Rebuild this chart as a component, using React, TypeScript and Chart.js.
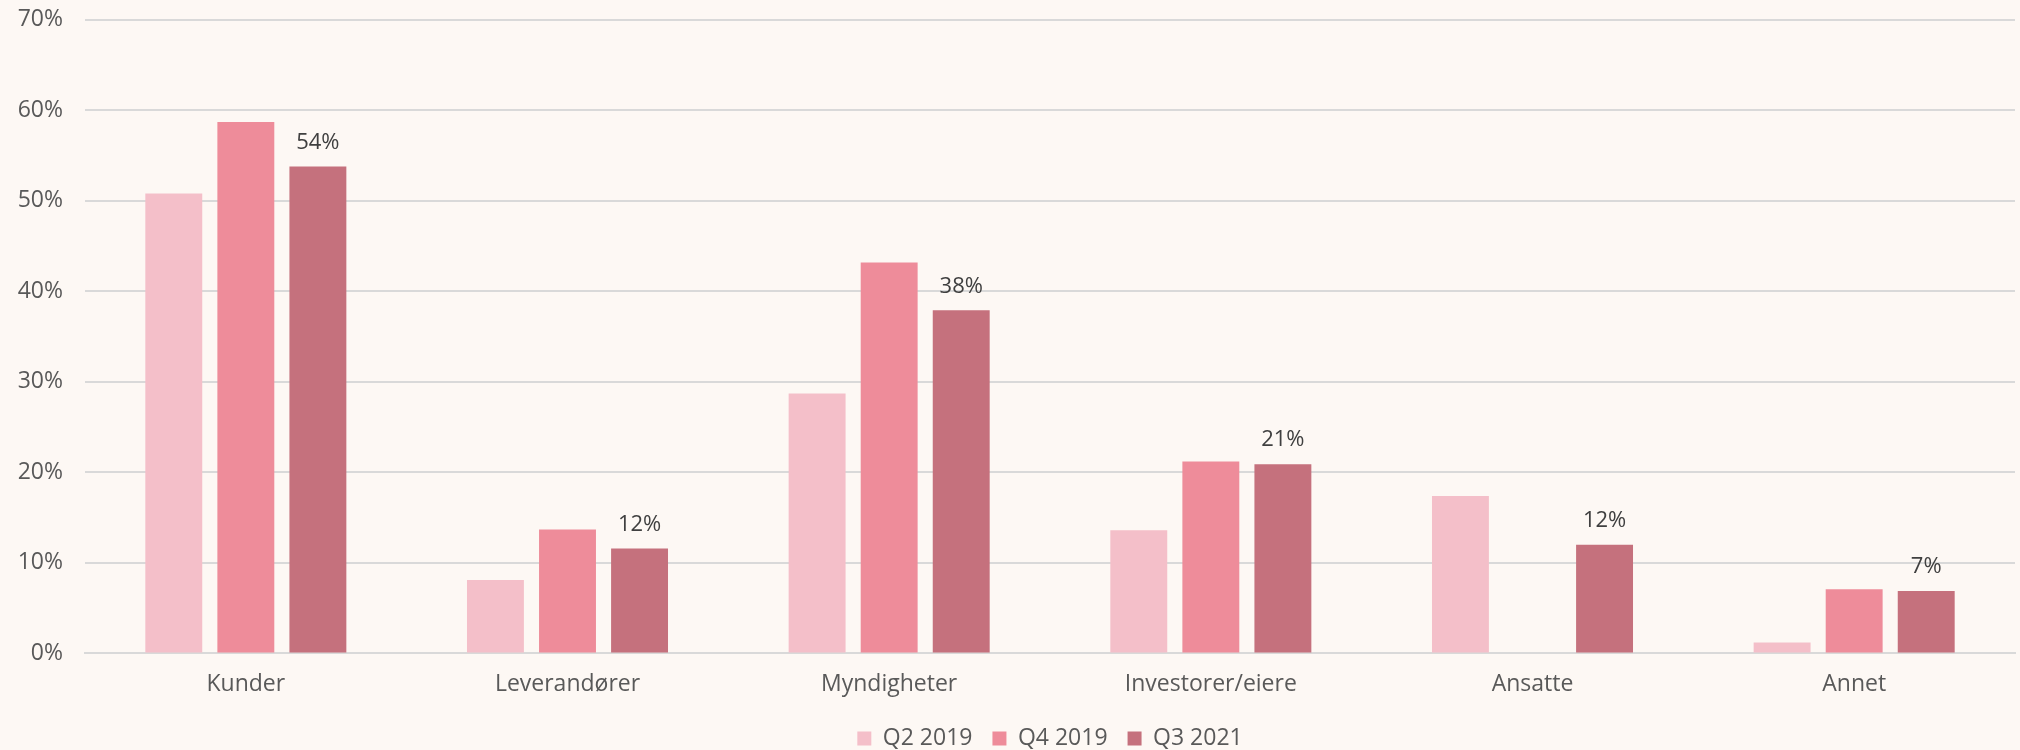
import React, { useEffect, useRef } from "react";
import { Chart, registerables } from "chart.js";

Chart.register(...registerables);

const categories = ["Kunder", "Leverandører", "Myndigheter", "Investorer/eiere", "Ansatte", "Annet"];
const seriesNames = ["Q2 2019", "Q4 2019", "Q3 2021"];
const q2_2019 = [50.8, 8.1, 28.7, 13.6, 17.4, 1.2];
const q4_2019: (number | null)[] = [58.7, 13.7, 43.2, 21.2, null, 7.1];
const q3_2021 = [53.8, 11.6, 37.9, 20.9, 12.0, 6.9];
const seriesColors = ["#F4BFC9", "#EE8C9A", "#C5717D"];
const yTicks = [0, 10, 20, 30, 40, 50, 60, 70];
const labelledSeries = 2;

const FONT = "'Open Sans', sans-serif";

const valueLabels = {
  id: "valueLabels",
  afterDatasetsDraw(chart: any) {
    const ctx = chart.ctx;
    const meta = chart.getDatasetMeta(labelledSeries);
    const data = chart.data.datasets[labelledSeries].data;
    ctx.save();
    ctx.fillStyle = "#404040";
    ctx.font = `22px ${FONT}`;
    ctx.textAlign = "center";
    ctx.textBaseline = "middle";
    meta.data.forEach((el: any, i: number) => {
      const v = data[i];
      if (v == null) return;
      ctx.fillText(Math.round(v) + "%", el.x, el.y - 24);
    });
    ctx.restore();
  },
};

const bgPlugin = {
  id: "bg",
  beforeDraw(chart: any) {
    const ctx = chart.ctx;
    ctx.save();
    ctx.fillStyle = "#FDF8F4";
    ctx.fillRect(0, 0, chart.width, chart.height);
    ctx.restore();
  },
};

export default function App() {
  const ref = useRef<HTMLCanvasElement>(null);
  useEffect(() => {
    document.body.style.margin = "0";
    document.body.style.background = "#FDF8F4";
    document.body.style.overflow = "hidden";
    const values = [q2_2019, q4_2019, q3_2021];
    const chart = new Chart(ref.current!, {
      type: "bar",
      data: {
        labels: categories,
        datasets: seriesNames.map((name, i) => ({
          label: name,
          data: values[i],
          backgroundColor: seriesColors[i],
          borderWidth: 0,
          barPercentage: 0.79,
          categoryPercentage: 0.672,
        })),
      },
      options: {
        animation: false,
        responsive: true,
        maintainAspectRatio: false,
        layout: { padding: { top: 0, right: 5, left: 0, bottom: 0 } },
        plugins: {
          legend: {
            position: "bottom",
            fullSize: false,
            labels: {
              boxWidth: 14,
              boxHeight: 14,
              padding: 20,
              color: "#595959",
              font: { family: FONT, size: 23 },
            },
          },
          tooltip: { enabled: false },
        },
        scales: {
          x: {
            grid: { display: false },
            border: { display: true, color: "#D9D9D9", width: 2 },
            ticks: { color: "#595959", font: { family: FONT, size: 23 }, padding: 9 },
          },
          y: {
            min: 0,
            max: 70,
            afterBuildTicks(scale: any) {
              scale.ticks = yTicks.map((v) => ({ value: v }));
            },
            afterFit(scale: any) {
              scale.width = 85;
            },
            grid: { color: "#D9D9D9", lineWidth: 2, drawTicks: false },
            border: { display: false },
            ticks: {
              color: "#595959",
              font: { family: FONT, size: 23 },
              padding: 22,
              callback: (v: any) => v + "%",
            },
          },
        },
      },
      plugins: [bgPlugin, valueLabels],
    });
    return () => chart.destroy();
  }, []);
  return (
    <div style={{ position: "absolute", left: 0, top: -16, width: 2020, height: 776 }}>
      <canvas ref={ref} />
    </div>
  );
}
